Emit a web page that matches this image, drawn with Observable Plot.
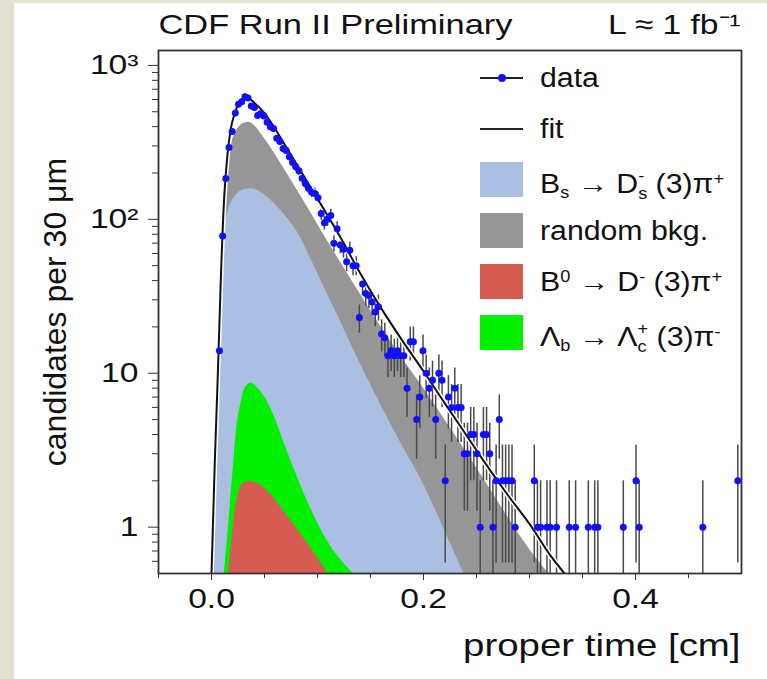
<!DOCTYPE html>
<html>
<head>
<meta charset="utf-8">
<script src="https://cdn.jsdelivr.net/npm/d3@7"></script>
<script src="https://cdn.jsdelivr.net/npm/@observablehq/plot@0.6"></script>
<style>
  html, body { margin: 0; padding: 0; background: #e3e1cf; }
  #wrap { position: relative; width: 767px; height: 679px; overflow: hidden; background: #e3e1cf; }
  #panel { position: absolute; left: 14px; top: 3px; right: 0; bottom: 0; background: #ffffff; }
  #chart { position: absolute; left: 0; top: 0; }
  #legend { position: absolute; left: 480px; top: 52px; font-family: "Liberation Sans", Arial, sans-serif; color: #111; }
  .row { height: 51px; display: flex; align-items: center; }
  .sw { width: 43px; height: 35px; flex: none; position: relative; }
  .ln { position: absolute; left: 0; right: 0; top: 17px; height: 2px; background: #222; }
  .dt { position: absolute; left: 18px; top: 14px; width: 8px; height: 8px; border-radius: 50%; background: #1010ff; }
  .lt { margin-left: 17px; font-size: 27px; line-height: 28px; height: 28px; white-space: nowrap; transform: scaleX(1.12); transform-origin: left center; }
  .lt sub, .lt sup { font-size: 60%; line-height: 0; }
  .lt sub { vertical-align: -0.35em; }
  .lt sup { vertical-align: 0.55em; }
  .stk { display: inline-flex; flex-direction: column; font-size: 60%; line-height: 1.15; vertical-align: 0.72em; }
</style>
</head>
<body>
<div id="wrap">
  <div id="panel"></div>
  <div id="chart"></div>
  <div id="legend">
    <div class="row"><div class="sw"><div class="ln" style="height:1.5px"></div><div class="dt"></div></div><span class="lt">data</span></div>
    <div class="row"><div class="sw"><div class="ln"></div></div><span class="lt">fit</span></div>
    <div class="row"><div class="sw" style="background:#aabfe2"></div><span class="lt">B<sub>s</sub> → D<span class="stk"><span>-</span><span>s</span></span> (3)π<sup>+</sup></span></div>
    <div class="row"><div class="sw" style="background:#969696"></div><span class="lt">random bkg.</span></div>
    <div class="row"><div class="sw" style="background:#d65b52"></div><span class="lt">B<sup>0</sup> → D<sup>-</sup> (3)π<sup>+</sup></span></div>
    <div class="row"><div class="sw" style="background:#00f000"></div><span class="lt">Λ<sub>b</sub> → Λ<span class="stk"><span>+</span><span>c</span></span> (3)π<sup>-</sup></span></div>
  </div>
</div>
<script>
// ---- axis settings ----
const xDomain = [-0.05, 0.5];
const yDomain = [0.5, 1250];
const xMajor = [0, 0.2, 0.4];
const xMinor = [-0.05, 0.05, 0.1, 0.15, 0.25, 0.3, 0.35, 0.45];
const yMajor = [1, 10, 100, 1000];
const yMajorLabels = ["1", "10", "10²", "10³"];
const yMinor = [0.6, 0.7, 0.8, 0.9, 2, 3, 4, 5, 6, 7, 8, 9, 20, 30, 40, 50, 60, 70, 80, 90, 200, 300, 400, 500, 600, 700, 800, 900];

// ---- data: bin centre (cm) and candidates per 30 um ----
const dataX = [0.0075,0.0105,0.0135,0.0165,0.0195,0.0225,0.0255,0.0285,0.0315,0.0345,0.0375,0.0405,0.0435,0.0465,0.0495,0.0525,0.0555,0.0585,0.0615,0.0645,0.0675,0.0705,0.0735,0.0765,0.0795,0.0825,0.0855,0.0885,0.0915,0.0945,0.0975,0.1005,0.1035,0.1065,0.1095,0.1125,0.1155,0.1185,0.1215,0.1245,0.1275,0.1305,0.1335,0.1365,0.1395,0.1425,0.1455,0.1485,0.1515,0.1545,0.1575,0.1605,0.1635,0.1665,0.1695,0.1725,0.1755,0.1785,0.1815,0.1845,0.1875,0.1905,0.1935,0.1965,0.1995,0.2025,0.2055,0.2085,0.2115,0.2145,0.2175,0.2205,0.2235,0.2265,0.2295,0.2325,0.2355,0.2385,0.2415,0.2445,0.2475,0.2505,0.2535,0.2565,0.2595,0.2625,0.2655,0.2685,0.2715,0.2745,0.2775,0.2805,0.2835,0.2865,0.3045,0.3075,0.3105,0.3165,0.3195,0.3255,0.3375,0.3435,0.3555,0.3615,0.3645,0.3885,0.4005,0.4035,0.4635,0.4965];
const dataN = [14,78,184,293,372,490,560,580,625,615,545,533,473,487,470,427,400,389,336,320,288,280,255,234,220,207,185,171,159,150,147,138,109,95,100,106,70,87,68,64,53,63,50,50,23,38,33,32,29,25,27,18,17,13,14,13,14,13,13,8,16,16,5,7,14,10,8,9,5,10,9,2,7,6,8,6,6,3,3,4,4,3,1,4,4,3,1,2,5,2,2,2,2,1,2,1,1,1,1,1,1,1,1,1,1,1,2,1,1,2];

// ---- fit curve ----
const fitX = [0.0, 0.003, 0.006, 0.009, 0.012, 0.015, 0.018, 0.022, 0.026, 0.031, 0.036, 0.04, 0.05, 0.06, 0.07, 0.08, 0.09, 0.1, 0.12, 0.14, 0.16, 0.18, 0.2, 0.22, 0.24, 0.26, 0.28, 0.3, 0.32, 0.333];
const fitY = [0.5, 2.5, 10, 45, 140, 260, 380, 490, 570, 615, 605, 575, 490, 388, 298, 230, 177, 136, 80, 45, 26.5, 16.3, 10.3, 6.4, 4.0, 2.5, 1.6, 1.05, 0.65, 0.5];

// ---- stacked components (cumulative tops) ----
const bkgX = [0.002, 0.004, 0.006, 0.008, 0.011, 0.015, 0.02, 0.025, 0.03, 0.035, 0.04, 0.05, 0.06, 0.07, 0.08, 0.09, 0.1, 0.12, 0.14, 0.16, 0.18, 0.2, 0.22, 0.24, 0.26, 0.28, 0.3, 0.318];
const bkgY = [0.5, 3, 15, 50, 130, 240, 330, 390, 420, 428, 410, 335, 265, 205, 158, 122, 93, 55, 33, 20, 12.5, 8, 5, 3.1, 1.9, 1.15, 0.72, 0.5];

const bsX = [0.003, 0.005, 0.007, 0.009, 0.012, 0.016, 0.021, 0.026, 0.031, 0.037, 0.045, 0.055, 0.065, 0.075, 0.084, 0.095, 0.109, 0.12, 0.133, 0.147, 0.161, 0.177, 0.2, 0.22, 0.238];
const bsY = [0.5, 3, 12, 40, 85, 115, 137, 150, 156, 158, 152, 135, 115, 95, 76, 53, 33, 23, 14.7, 9.3, 6, 3.7, 1.9, 0.95, 0.5];

const lbX = [0.012, 0.016, 0.02, 0.024, 0.027, 0.031, 0.037, 0.045, 0.058, 0.068, 0.08, 0.09, 0.109, 0.134];
const lbY = [0.5, 1.0, 2.2, 4.5, 6.0, 7.8, 8.6, 7.8, 5.5, 3.6, 2.2, 1.5, 0.82, 0.5];

const b0X = [0.016, 0.019, 0.021, 0.024, 0.027, 0.032, 0.037, 0.045, 0.058, 0.07, 0.084, 0.097, 0.109];
const b0Y = [0.5, 0.8, 1.1, 1.5, 1.8, 1.95, 1.98, 1.9, 1.57, 1.22, 0.91, 0.68, 0.51];

// ---- text ----
const titleText = "CDF Run II Preliminary";
const lumiText = "L ≈ 1 fb⁻¹";
const xLabel = "proper time [cm]";
const yLabel = "candidates per 30 μm";

const rows = (xs, ys) => xs.map((x, i) => ({x, y: ys[i]}));
const data = rows(dataX, dataN);
const floor = yDomain[0];
const yTickMap = new Map(yMajor.map((v, i) => [v, yMajorLabels[i]]));

const area = (xs, ys, fill) => Plot.areaY(rows(xs, ys), {x: "x", y1: () => floor, y2: "y", fill, curve: "monotone-x", clip: true});

const chart = Plot.plot({
  width: 767, height: 679,
  marginLeft: 158, marginRight: 26, marginTop: 50, marginBottom: 106,
  style: {background: "none", fontFamily: "'Liberation Sans', Arial, sans-serif", fontSize: "28px", color: "#111"},
  x: {domain: xDomain},
  y: {type: "log", domain: yDomain},
  marks: [
    area(bkgX, bkgY, "#969696"),
    area(bsX, bsY, "#aabfe2"),
    area(lbX, lbY, "#00f000"),
    area(b0X, b0Y, "#d65b52"),
    Plot.ruleX(data, {x: "x", y1: d => Math.max(d.y - Math.sqrt(d.y), 0.3), y2: d => d.y + Math.sqrt(d.y), stroke: "#4a4a4a", strokeWidth: 1.5, clip: true}),
    Plot.line(rows(fitX, fitY), {x: "x", y: "y", stroke: "white", strokeWidth: 5, curve: "monotone-x", clip: true}),
    Plot.line(rows(fitX, fitY), {x: "x", y: "y", stroke: "#111", strokeWidth: 2, curve: "monotone-x", clip: true}),
    Plot.dot(data, {x: "x", y: "y", r: 3.5, fill: "#1010ff", stroke: "none"}),
    Plot.frame({stroke: "#333", strokeWidth: 1.8}),
    Plot.axisX({ticks: xMajor, tickFormat: d3.format(".1f"), tickSize: 7, tickPadding: 8, label: null, stroke: "#333"}),
    Plot.axisX({ticks: xMinor, tickFormat: () => "", tickSize: 5, label: null, stroke: "#333"}),
    Plot.axisY({ticks: yMajor, tickFormat: d => yTickMap.get(d), tickSize: 10, tickPadding: 10, label: null, stroke: "#333"}),
    Plot.axisY({ticks: yMinor, tickFormat: () => "", tickSize: 6, label: null, stroke: "#333"}),
    Plot.text([titleText], {text: d => d, frameAnchor: "top-left", textAnchor: "start", lineAnchor: "bottom", dy: -17, fontSize: 28}),
    Plot.text([lumiText], {text: d => d, frameAnchor: "top-right", textAnchor: "end", lineAnchor: "bottom", dy: -17, dx: -1, fontSize: 28}),
    Plot.text([xLabel], {text: d => d, frameAnchor: "bottom-right", textAnchor: "end", lineAnchor: "bottom", dy: 82, dx: -1, fontSize: 32}),
    Plot.text([yLabel], {text: d => d, frameAnchor: "left", rotate: -90, textAnchor: "middle", lineAnchor: "bottom", dx: -93, fontSize: 32})
  ]
});
document.getElementById("chart").appendChild(chart);

// widen horizontal text to match the wide face of the original
chart.querySelectorAll("text").forEach(t => {
  const s = t.textContent;
  if (!s || s === yLabel) return;
  const w = t.getComputedTextLength();
  if (w > 0) {
    const f = s === titleText ? 1.23 : 1.2;
    t.setAttribute("textLength", (w * f).toFixed(1));
    t.setAttribute("lengthAdjust", "spacingAndGlyphs");
  }
});
</script>
</body>
</html>
